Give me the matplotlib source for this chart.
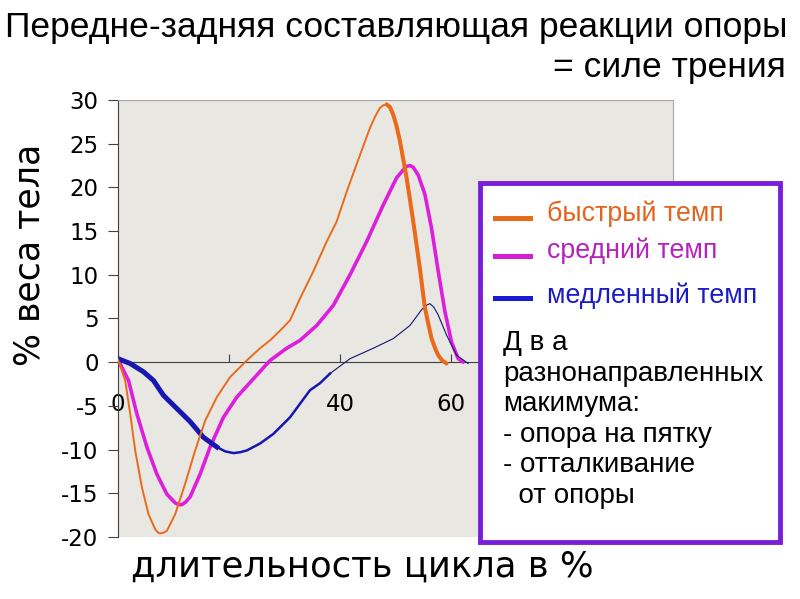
import matplotlib
matplotlib.use("Agg")
import matplotlib.pyplot as plt
from matplotlib.patches import Rectangle
from matplotlib.lines import Line2D

# x = % of gait cycle, y = % of body weight
fast_x = [0, 1.3, 2.2, 3.1, 4.3, 5.5, 6.7, 7.2, 7.6, 8.2, 8.8, 10.3, 12.1, 13.9,
          15.7, 17.8, 20.2, 23.2, 25.6, 27.4, 29.5, 31.0, 32.8, 35.2, 37.6, 39.4,
          41.2, 43.6, 45.4, 46.4, 47.2, 47.8, 48.4, 49.0, 49.6, 50.2, 50.8, 52.0,
          53.2, 54.4, 55.3, 56.5, 57.2, 57.7, 58.4, 59.2]
fast_y = [0.3, -2.1, -5.9, -10.1, -14.3, -17.4, -19.1, -19.5, -19.6, -19.5, -19.3,
          -17.4, -13.9, -10.1, -6.7, -4.0, -1.7, 0.2, 1.6, 2.5, 3.8, 4.8, 7.3, 10.4,
          13.8, 16.1, 19.5, 23.7, 26.8, 28.2, 29.1, 29.4, 29.5, 29.2, 28.3, 27.0,
          25.3, 21.1, 16.1, 10.7, 6.2, 2.7, 1.5, 0.8, 0.2, -0.15]

medium_x = [0, 1.9, 3.4, 5.2, 7.0, 8.8, 10.3, 10.9, 11.5, 12.2, 13.0, 14.8, 16.6,
            19.0, 21.4, 24.4, 27.4, 30.4, 32.8, 35.8, 38.8, 41.8, 44.8, 47.8, 50.2,
            51.4, 52.0, 52.6, 53.2, 54.1, 55.3, 56.5, 57.7, 58.9, 60.1, 61.3, 62.2]
medium_y = [0.3, -2.1, -5.9, -9.7, -12.8, -15.1, -16.1, -16.3, -16.3, -16.0, -15.4,
            -12.8, -9.7, -6.3, -4.0, -1.9, 0.2, 1.6, 2.5, 4.2, 6.5, 10.0, 13.8, 18.0,
            21.1, 22.0, 22.4, 22.5, 22.3, 21.4, 19.2, 15.3, 10.4, 5.8, 2.3, 0.4, 0.0]

slow_x = [0, 2.2, 4.6, 6.4, 8.2, 10.6, 13.0, 15.4, 17.8, 19.3, 20.8, 22.0, 23.2,
          25.6, 28.0, 31.0, 34.6, 36.4, 38.2, 41.8, 46.0, 49.6, 52.6, 54.7, 55.5,
          56.2, 56.9, 57.7, 59.2, 61.0, 63.1]
slow_y = [0.4, -0.15, -1.1, -2.1, -3.8, -5.3, -6.8, -8.6, -9.7, -10.2, -10.4, -10.3,
          -10.1, -9.3, -8.2, -6.3, -3.2, -2.4, -1.3, 0.4, 1.6, 2.7, 4.2, 6.0, 6.5,
          6.7, 6.3, 5.4, 3.1, 0.8, -0.15]

x_ticks = [0, 20, 40, 60, 80, 100]
x_tick_labels = ["0", "", "40", "60", "", ""]
y_ticks = [-20, -15, -10, -5, 0, 5, 10, 15, 20, 25, 30]

legend_labels = ["быстрый темп", "средний темп", "медленный темп"]
legend_text_colors = ["#e2641f", "#b424bc", "#1c1cc4"]
legend_line_colors = ["#ea6a1c", "#d420d4", "#1a1ad0"]
note_lines = ["Д в а", "разнонаправленных", "макимума:",
              "- опора на пятку", "- отталкивание", "  от опоры"]

ORANGE = "#ea6a1c"
MAGENTA = "#dd1fdd"
BLUE = "#1818b0"
NAVY = "#14146e"

W, H = 800, 599
plt.rcParams['font.family'] = ['Liberation Sans', 'DejaVu Sans']

fig = plt.figure(figsize=(8, 5.99), dpi=100)


def fx(px):
    return px / W


def fy(py):
    return 1 - py / H


ax = fig.add_axes([fx(118), fy(537), (673 - 118) / W, (537 - 100) / H])
ax.set_facecolor("#e9e7e2")
ax.set_xlim(0, 100)
ax.set_ylim(-20, 30)

# orange: thin going down, thicker on the push-off drop
peak = fast_y.index(max(fast_y))
ax.plot(fast_x[:peak + 1], fast_y[:peak + 1], color=ORANGE, lw=1.4, zorder=3)
ax.plot(fast_x[peak:], fast_y[peak:], color=ORANGE, lw=2.9, zorder=3,
        solid_capstyle='round')

ax.plot(medium_x, medium_y, color=MAGENTA, lw=2.6, zorder=2, solid_capstyle='round')

# blue line gets thinner along the cycle
ax.plot(slow_x[:9], slow_y[:9], color=BLUE, lw=3.6, zorder=2)
ax.plot(slow_x[8:19], slow_y[8:19], color=BLUE, lw=1.8, zorder=2)
ax.plot(slow_x[18:], slow_y[18:], color=NAVY, lw=0.8, zorder=2)

for side in ["top", "right"]:
    ax.spines[side].set_color("#a8a8a8")
    ax.spines[side].set_linewidth(0.8)
ax.spines["left"].set_color("#404040")
ax.spines["bottom"].set_position(("data", 0))
ax.spines["bottom"].set_color("#404040")
ax.spines["bottom"].set_zorder(1)

ax.set_yticks(y_ticks)
ax.set_yticklabels([str(v) for v in y_ticks])
ax.set_xticks(x_ticks)
ax.set_xticklabels(x_tick_labels)
ax.tick_params(axis="y", direction="out", length=7, width=0.8, color="#404040",
               pad=7, labelsize=16.5)
ax.tick_params(axis="x", direction="in", length=6, width=0.8, color="#404040",
               pad=22, labelsize=16.5)
for lab in ax.get_xticklabels() + ax.get_yticklabels():
    lab.set_family("DejaVu Sans")

# titles
fig.text(fx(5), fy(37), "Передне-задняя составляющая реакции опоры",
         fontsize=25.5, ha="left", va="baseline")
fig.text(fx(786), fy(77), "= силе трения", fontsize=25.5, ha="right", va="baseline")

fig.text(fx(362), fy(577), "длительность цикла в %", family="DejaVu Sans",
         fontsize=25.5, ha="center", va="baseline")
fig.text(fx(30), fy(255), "% веса тела", family="DejaVu Sans", fontsize=25,
         rotation=90, ha="center", va="center")

# framed legend / note box
box = Rectangle((fx(480), fy(542)), 300 / W, (542 - 183) / H, transform=fig.transFigure,
                facecolor="white", edgecolor="#7a1fd8", linewidth=3.5, zorder=5)
fig.add_artist(box)

sample_y = [218, 256, 298]
label_base = [221, 258, 303]
for lab, tcol, lcol, sy, by in zip(legend_labels, legend_text_colors,
                                   legend_line_colors, sample_y, label_base):
    fig.add_artist(Line2D([fx(495), fx(530)], [fy(sy), fy(sy)], color=lcol, lw=3.6,
                          transform=fig.transFigure, zorder=6))
    fig.text(fx(547), fy(by), lab, color=tcol, fontsize=19.3, ha="left", va="baseline",
             zorder=6)

for i, line in enumerate(note_lines):
    fig.text(fx(503), fy(350 + i * 30.6), line, fontsize=20, ha="left",
             va="baseline", zorder=6)

fig.savefig("out.png", dpi=100)
